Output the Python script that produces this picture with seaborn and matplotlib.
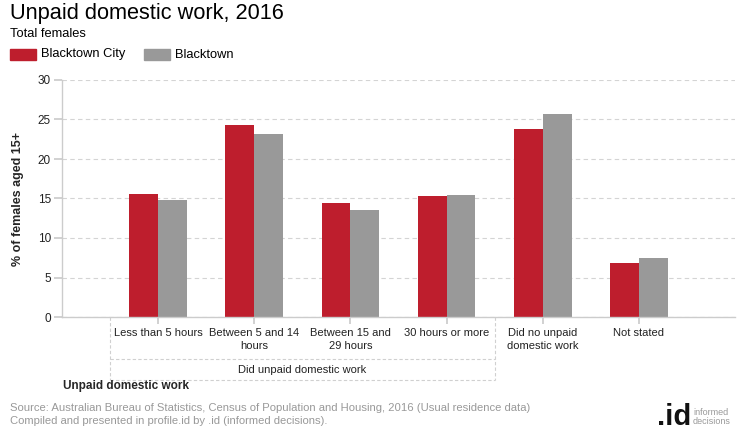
import pandas as pd
import matplotlib.pyplot as plt
import matplotlib.transforms as mtransforms
import seaborn as sns

# ========================
# Data
# ========================
categories = ['Less than 5 hours', 'Between 5 and 14 hours', 'Between 15 and 29 hours',
              '30 hours or more', 'Did no unpaid domestic work', 'Not stated']
tick_labels = ['Less than 5 hours', 'Between 5 and 14\nhours', 'Between 15 and\n29 hours',
               '30 hours or more', 'Did no unpaid\ndomestic work', 'Not stated']
series_names = ['Blacktown City', 'Blacktown']
blacktown_city = [15.6, 24.3, 14.4, 15.3, 23.8, 6.8]
blacktown = [14.8, 23.2, 13.5, 15.4, 25.7, 7.5]
group_label = 'Did unpaid domestic work'

df = pd.DataFrame({
    'category': categories * 2,
    'series': [series_names[0]] * len(categories) + [series_names[1]] * len(categories),
    'value': blacktown_city + blacktown,
})

RED = '#BE1E2D'
GREY = '#999999'
LINE = '#cccccc'

sns.set_theme(style='white')
plt.rcParams['font.family'] = ['Liberation Sans', 'DejaVu Sans']

fig = plt.figure(figsize=(7.4, 4.4), dpi=100)
ax = fig.add_axes([62 / 740, 1 - 317 / 440, 673 / 740, 237 / 440])

sns.barplot(data=df, x='category', y='value', hue='series', order=categories,
            hue_order=series_names, palette=[RED, GREY], width=0.6, saturation=1,
            linewidth=0, legend=False, ax=ax)

ax.set_xlim(-1, 6)
ax.set_ylim(0, 30)
ax.set_yticks([0, 5, 10, 15, 20, 25, 30])
ax.set_xticks(range(len(categories)))
ax.set_xticklabels(tick_labels, fontsize=8, color='#222222', linespacing=1.35, va='top')
ax.tick_params(axis='y', labelsize=8.5, colors='#222222', length=6, color=LINE, pad=2, left=True)
ax.tick_params(axis='x', length=5, color=LINE, pad=3, bottom=True)
ax.yaxis.grid(True, linestyle=(0, (4, 3)), color='#d4d4d4', linewidth=0.8)
ax.set_axisbelow(True)
for s in ['top', 'right']:
    ax.spines[s].set_visible(False)
for s in ['left', 'bottom']:
    ax.spines[s].set_color(LINE)
    ax.spines[s].set_linewidth(1)
ax.set_xlabel('')
ax.set_ylabel('% of females aged 15+', fontsize=9, fontweight='bold', labelpad=10)

# group box under first four categories
trans = mtransforms.blended_transform_factory(ax.transData, ax.transAxes)
box_kw = dict(color='#d0d0d0', linestyle=(0, (3, 2)), linewidth=0.8, transform=trans, clip_on=False)
ax.plot([-0.5, -0.5], [0, -0.266], **box_kw)
ax.plot([3.5, 3.5], [0, -0.266], **box_kw)
ax.plot([-0.5, 3.5], [-0.177, -0.177], **box_kw)
ax.plot([-0.5, 3.5], [-0.266, -0.266], **box_kw)
ax.text(1.5, -0.222, group_label, transform=trans, ha='center', va='center',
        fontsize=8, color='#222222')

# titles and legend
fig.text(10 / 740, 1 - 13 / 440, 'Unpaid domestic work, 2016', fontsize=15.7, va='center', color='#000000')
fig.text(10 / 740, 1 - 34 / 440, 'Total females', fontsize=9.3, va='center', color='#000000')
legend_items = [(10, RED, series_names[0]), (144, GREY, series_names[1])]
for x0, col, name in legend_items:
    fig.patches.append(plt.Rectangle((x0 / 740, 1 - 60 / 440), 26 / 740, 11 / 440,
                                     transform=fig.transFigure, color=col))
    fig.text((x0 + 31) / 740, 1 - 54.5 / 440, name, fontsize=9.3, va='center', color='#000000')

fig.text(63 / 740, 1 - 386 / 440, 'Unpaid domestic work', fontsize=8.5, fontweight='bold', va='center')

fig.text(10 / 740, 1 - 408 / 440, 'Source: Australian Bureau of Statistics, Census of Population and Housing, 2016 (Usual residence data)',
         fontsize=8.1, color='#999999', va='center')
fig.text(10 / 740, 1 - 421 / 440, 'Compiled and presented in profile.id by .id (informed decisions).',
         fontsize=8.1, color='#999999', va='center')

# logo
fig.text(691 / 740, 1 - 417 / 440, '.id', fontsize=21, fontweight='bold', ha='right', va='center', color='#111111')
fig.text(693 / 740, 1 - 417 / 440, 'informed\ndecisions', fontsize=6.5, ha='left', va='center',
         color='#999999', linespacing=0.95)

fig.savefig('out.png', dpi=100)
plt.close(fig)
